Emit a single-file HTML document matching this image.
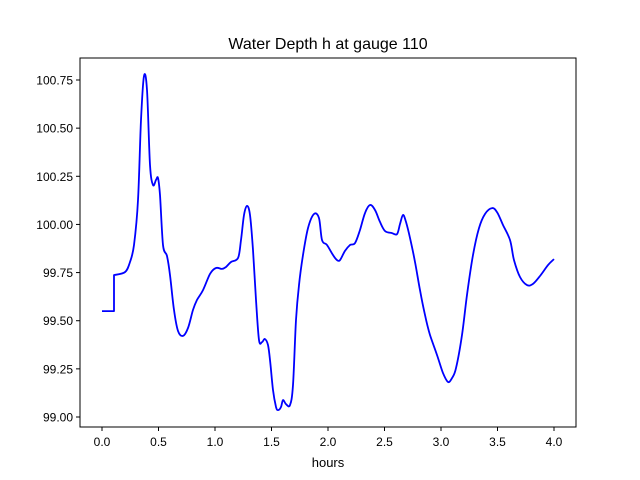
<!DOCTYPE html>
<html><head><meta charset="utf-8"><style>
body{margin:0;background:#fff}
svg{display:block;font-family:"Liberation Sans","DejaVu Sans",sans-serif}
</style></head><body>
<svg id="chart" width="640" height="480" viewBox="0 0 640 480">
<rect x="0" y="0" width="640" height="480" fill="#fff"/>
<text x="328" y="49" font-size="16" text-anchor="middle" fill="#000">Water Depth h at gauge 110</text>
<g id="ticks"></g>
<path id="series" fill="none" stroke="#0000ff" stroke-width="1.8" stroke-linejoin="round"/>
<rect x="80" y="58" width="496" height="369" fill="none" stroke="#000" stroke-width="1"/>
<text x="328" y="467" font-size="13" text-anchor="middle">hours</text>
</svg>
<script>
const hours=[0,.106,.106,.204,.248,.283,.319,.345,.372,.398,.425,.451,.478,.496,.513,.540,.575,.602,.637,.673,.717,.761,.805,.841,.894,.956,1.009,1.062,1.097,1.142,1.204,1.230,1.257,1.283,1.310,1.336,1.363,1.389,1.416,1.442,1.469,1.487,1.513,1.540,1.558,1.584,1.602,1.628,1.664,1.690,1.717,1.743,1.779,1.823,1.876,1.920,1.947,1.991,2.044,2.080,2.106,2.150,2.195,2.239,2.283,2.327,2.372,2.416,2.460,2.504,2.566,2.611,2.637,2.664,2.690,2.726,2.770,2.814,2.858,2.903,2.965,3.018,3.062,3.097,3.133,3.186,3.230,3.283,3.336,3.389,3.451,3.496,3.549,3.611,3.646,3.699,3.761,3.814,3.876,3.947,4.0];
const depth=[99.550,99.550,99.737,99.753,99.805,99.893,100.127,100.542,100.771,100.698,100.309,100.205,100.231,100.241,100.153,99.893,99.836,99.737,99.556,99.447,99.421,99.462,99.556,99.608,99.659,99.743,99.774,99.769,99.779,99.805,99.826,99.919,100.049,100.096,100.049,99.867,99.608,99.400,99.389,99.405,99.374,99.296,99.140,99.052,99.036,99.052,99.088,99.067,99.062,99.166,99.504,99.685,99.841,99.981,100.054,100.033,99.919,99.893,99.841,99.815,99.815,99.862,99.893,99.903,99.971,100.059,100.101,100.075,100.013,99.966,99.955,99.950,100.002,100.049,100.013,99.930,99.805,99.659,99.530,99.426,99.322,99.228,99.182,99.202,99.254,99.426,99.634,99.841,99.981,100.054,100.085,100.064,99.997,99.919,99.815,99.727,99.685,99.691,99.732,99.789,99.820];
const xTicks=["0.0","0.5","1.0","1.5","2.0","2.5","3.0","3.5","4.0"];
const yTicks=["99.00","99.25","99.50","99.75","100.00","100.25","100.50","100.75"];
const xs=h=>102+h*113;
const ys=v=>417-(v-99)*192.57;
const NS="http://www.w3.org/2000/svg";
const g=document.getElementById('ticks');
function mk(t,a){const e=document.createElementNS(NS,t);for(const k in a)e.setAttribute(k,a[k]);return e;}
xTicks.forEach(t=>{const x=xs(parseFloat(t));
const l=mk('line',{x1:x,x2:x,y1:427,y2:431,stroke:'#000'});


g.appendChild(l);
const tx=mk('text',{x:x,y:446,'font-size':12,'text-anchor':'middle'});tx.textContent=t;


g.appendChild(tx);});
yTicks.forEach(t=>{const y=ys(parseFloat(t));
const l=mk('line',{x1:76,x2:80,y1:y,y2:y,stroke:'#000'});


g.appendChild(l);
const tx=mk('text',{x:73,y:y+4.5,'font-size':12,'text-anchor':'end'});tx.textContent=t;


g.appendChild(tx);});
// smooth path (Catmull-Rom), straight segments at the vertical step
const P=hours.map((h,i)=>[xs(h),ys(depth[i])]);
let d='M'+P[0][0].toFixed(1)+' '+P[0][1].toFixed(1);
for(let i=0;i<P.length-1;i++){
  const p1=P[i],p2=P[i+1];
  let p0=P[i-1]||p1,p3=P[i+2]||p2;
  if(Math.abs(p2[0]-p1[0])<0.5||i<2){d+=' L'+p2[0].toFixed(1)+' '+p2[1].toFixed(1);continue;}
  if(Math.abs(p1[0]-p0[0])<0.5)p0=p1;
  if(Math.abs(p3[0]-p2[0])<0.5)p3=p2;
  const k=1/6;
  const c1=[p1[0]+(p2[0]-p0[0])*k,p1[1]+(p2[1]-p0[1])*k];
  const c2=[p2[0]-(p3[0]-p1[0])*k,p2[1]-(p3[1]-p1[1])*k];
  d+=' C'+c1[0].toFixed(1)+' '+c1[1].toFixed(1)+' '+c2[0].toFixed(1)+' '+c2[1].toFixed(1)+' '+p2[0].toFixed(1)+' '+p2[1].toFixed(1);
}
document.getElementById('series').setAttribute('d',d);
</script>
</body></html>
